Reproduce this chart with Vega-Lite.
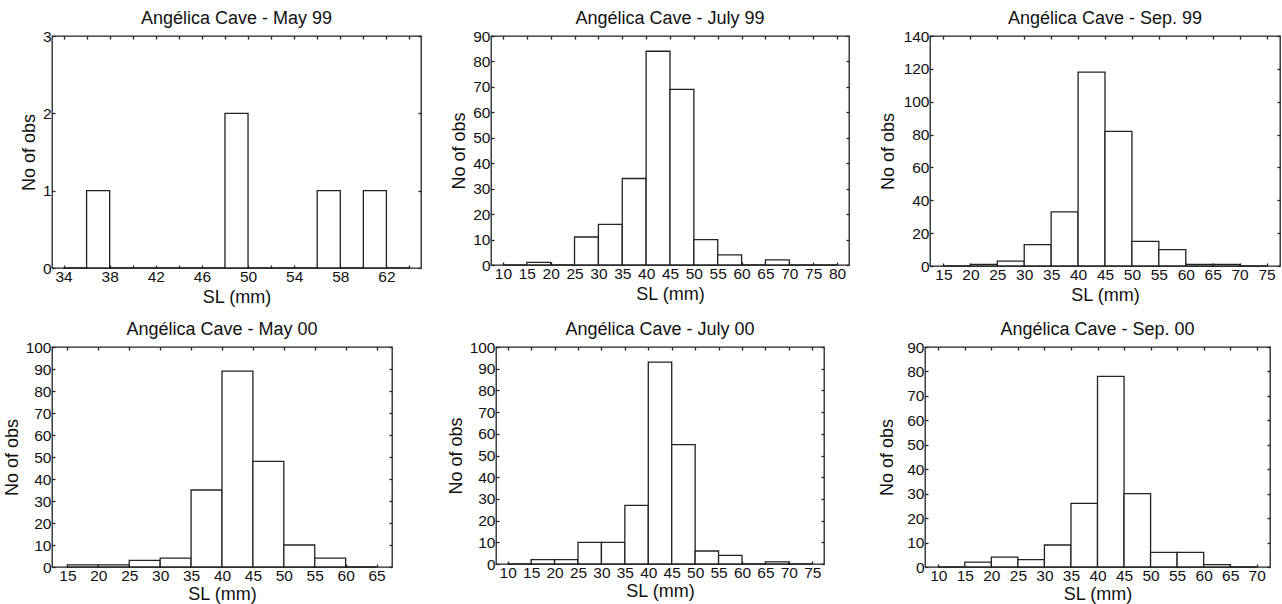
{
  "$schema": "https://vega.github.io/schema/vega-lite/v6.json",
  "background": "white",
  "padding": {"left": 2, "top": 9, "right": 0, "bottom": 0},
  "config": {
    "font": "Liberation Sans",
    "view": {"stroke": "#222", "strokeWidth": 1.3},
    "axis": {"domain": false, "grid": false, "tickColor": "#222", "tickSize": -3, "tickWidth": 1.3, "labelFontSize": 15.5, "labelColor": "#111", "titleFontSize": 18, "titleFontWeight": "normal", "titleColor": "#111", "labelPadding": 4},
    "title": {"fontSize": 18, "fontWeight": "normal", "color": "#111", "offset": 1}
  },
  "datasets": {
    "h": [
      {"panel": "May 99", "lo": 34, "hi": 36, "count": 0},
      {"panel": "May 99", "lo": 36, "hi": 38, "count": 1},
      {"panel": "May 99", "lo": 38, "hi": 40, "count": 0},
      {"panel": "May 99", "lo": 40, "hi": 42, "count": 0},
      {"panel": "May 99", "lo": 42, "hi": 44, "count": 0},
      {"panel": "May 99", "lo": 44, "hi": 46, "count": 0},
      {"panel": "May 99", "lo": 46, "hi": 48, "count": 0},
      {"panel": "May 99", "lo": 48, "hi": 50, "count": 2},
      {"panel": "May 99", "lo": 50, "hi": 52, "count": 0},
      {"panel": "May 99", "lo": 52, "hi": 54, "count": 0},
      {"panel": "May 99", "lo": 54, "hi": 56, "count": 0},
      {"panel": "May 99", "lo": 56, "hi": 58, "count": 1},
      {"panel": "May 99", "lo": 58, "hi": 60, "count": 0},
      {"panel": "May 99", "lo": 60, "hi": 62, "count": 1},
      {"panel": "May 99", "lo": 62, "hi": 64, "count": 0},
      {"panel": "July 99", "lo": 10, "hi": 15, "count": 0},
      {"panel": "July 99", "lo": 15, "hi": 20, "count": 1},
      {"panel": "July 99", "lo": 20, "hi": 25, "count": 0},
      {"panel": "July 99", "lo": 25, "hi": 30, "count": 11},
      {"panel": "July 99", "lo": 30, "hi": 35, "count": 16},
      {"panel": "July 99", "lo": 35, "hi": 40, "count": 34},
      {"panel": "July 99", "lo": 40, "hi": 45, "count": 84},
      {"panel": "July 99", "lo": 45, "hi": 50, "count": 69},
      {"panel": "July 99", "lo": 50, "hi": 55, "count": 10},
      {"panel": "July 99", "lo": 55, "hi": 60, "count": 4},
      {"panel": "July 99", "lo": 60, "hi": 65, "count": 0},
      {"panel": "July 99", "lo": 65, "hi": 70, "count": 2},
      {"panel": "July 99", "lo": 70, "hi": 75, "count": 0},
      {"panel": "July 99", "lo": 75, "hi": 80, "count": 0},
      {"panel": "Sep. 99", "lo": 15, "hi": 20, "count": 0},
      {"panel": "Sep. 99", "lo": 20, "hi": 25, "count": 1},
      {"panel": "Sep. 99", "lo": 25, "hi": 30, "count": 3},
      {"panel": "Sep. 99", "lo": 30, "hi": 35, "count": 13},
      {"panel": "Sep. 99", "lo": 35, "hi": 40, "count": 33},
      {"panel": "Sep. 99", "lo": 40, "hi": 45, "count": 118},
      {"panel": "Sep. 99", "lo": 45, "hi": 50, "count": 82},
      {"panel": "Sep. 99", "lo": 50, "hi": 55, "count": 15},
      {"panel": "Sep. 99", "lo": 55, "hi": 60, "count": 10},
      {"panel": "Sep. 99", "lo": 60, "hi": 65, "count": 1},
      {"panel": "Sep. 99", "lo": 65, "hi": 70, "count": 1},
      {"panel": "Sep. 99", "lo": 70, "hi": 75, "count": 0},
      {"panel": "May 00", "lo": 15, "hi": 20, "count": 1},
      {"panel": "May 00", "lo": 20, "hi": 25, "count": 1},
      {"panel": "May 00", "lo": 25, "hi": 30, "count": 3},
      {"panel": "May 00", "lo": 30, "hi": 35, "count": 4},
      {"panel": "May 00", "lo": 35, "hi": 40, "count": 35},
      {"panel": "May 00", "lo": 40, "hi": 45, "count": 89},
      {"panel": "May 00", "lo": 45, "hi": 50, "count": 48},
      {"panel": "May 00", "lo": 50, "hi": 55, "count": 10},
      {"panel": "May 00", "lo": 55, "hi": 60, "count": 4},
      {"panel": "May 00", "lo": 60, "hi": 65, "count": 0},
      {"panel": "July 00", "lo": 10, "hi": 15, "count": 0},
      {"panel": "July 00", "lo": 15, "hi": 20, "count": 2},
      {"panel": "July 00", "lo": 20, "hi": 25, "count": 2},
      {"panel": "July 00", "lo": 25, "hi": 30, "count": 10},
      {"panel": "July 00", "lo": 30, "hi": 35, "count": 10},
      {"panel": "July 00", "lo": 35, "hi": 40, "count": 27},
      {"panel": "July 00", "lo": 40, "hi": 45, "count": 93},
      {"panel": "July 00", "lo": 45, "hi": 50, "count": 55},
      {"panel": "July 00", "lo": 50, "hi": 55, "count": 6},
      {"panel": "July 00", "lo": 55, "hi": 60, "count": 4},
      {"panel": "July 00", "lo": 60, "hi": 65, "count": 0},
      {"panel": "July 00", "lo": 65, "hi": 70, "count": 1},
      {"panel": "July 00", "lo": 70, "hi": 75, "count": 0},
      {"panel": "Sep. 00", "lo": 10, "hi": 15, "count": 0},
      {"panel": "Sep. 00", "lo": 15, "hi": 20, "count": 2},
      {"panel": "Sep. 00", "lo": 20, "hi": 25, "count": 4},
      {"panel": "Sep. 00", "lo": 25, "hi": 30, "count": 3},
      {"panel": "Sep. 00", "lo": 30, "hi": 35, "count": 9},
      {"panel": "Sep. 00", "lo": 35, "hi": 40, "count": 26},
      {"panel": "Sep. 00", "lo": 40, "hi": 45, "count": 78},
      {"panel": "Sep. 00", "lo": 45, "hi": 50, "count": 30},
      {"panel": "Sep. 00", "lo": 50, "hi": 55, "count": 6},
      {"panel": "Sep. 00", "lo": 55, "hi": 60, "count": 6},
      {"panel": "Sep. 00", "lo": 60, "hi": 65, "count": 1},
      {"panel": "Sep. 00", "lo": 65, "hi": 70, "count": 0}
    ]
  },
  "data": {"name": "h"},
  "spacing": 12,
  "vconcat": [
    {
      "spacing": 27,
      "hconcat": [
        {
          "width": 369, "height": 232,
          "title": "Angélica Cave - May 99",
          "transform": [{"filter": "datum.panel == 'May 99'"}],
          "layer": [
            {"mark": {"type": "bar", "fill": "white", "stroke": "#222", "strokeWidth": 1.3},
             "encoding": {
               "x": {"field": "lo", "type": "quantitative", "scale": {"domain": [33, 65], "nice": false, "zero": false}, "axis": {"orient": "bottom", "title": "SL (mm)", "values": [34, 36, 38, 40, 42, 44, 46, 48, 50, 52, 54, 56, 58, 60, 62, 64], "labelExpr": "datum.value % 4 == 2 ? datum.label : ''"}},
               "x2": {"field": "hi"},
               "y": {"field": "count", "type": "quantitative", "scale": {"domain": [0, 3], "nice": false}, "axis": {"orient": "left", "title": "No of obs", "values": [0, 1, 2, 3]}},
               "y2": {"datum": 0}
             }},
            {"mark": {"type": "bar", "opacity": 0},
             "encoding": {
               "x": {"field": "lo", "type": "quantitative", "axis": {"orient": "top", "title": null, "labels": false, "values": [34, 36, 38, 40, 42, 44, 46, 48, 50, 52, 54, 56, 58, 60, 62, 64]}},
               "x2": {"field": "hi"},
               "y": {"field": "count", "type": "quantitative", "axis": {"orient": "right", "title": null, "labels": false, "values": [0, 1, 2, 3]}},
               "y2": {"datum": 0}
             }}
          ],
          "resolve": {"axis": {"x": "independent", "y": "independent"}}
        },
        {
          "width": 358, "height": 229,
          "title": "Angélica Cave - July 99",
          "transform": [{"filter": "datum.panel == 'July 99'"}],
          "layer": [
            {"mark": {"type": "bar", "fill": "white", "stroke": "#222", "strokeWidth": 1.3},
             "encoding": {
               "x": {"field": "lo", "type": "quantitative", "scale": {"domain": [7.5, 82.5], "nice": false, "zero": false}, "axis": {"orient": "bottom", "title": "SL (mm)", "values": [10, 15, 20, 25, 30, 35, 40, 45, 50, 55, 60, 65, 70, 75, 80]}},
               "x2": {"field": "hi"},
               "y": {"field": "count", "type": "quantitative", "scale": {"domain": [0, 90], "nice": false}, "axis": {"orient": "left", "title": "No of obs", "values": [0, 10, 20, 30, 40, 50, 60, 70, 80, 90]}},
               "y2": {"datum": 0}
             }},
            {"mark": {"type": "bar", "opacity": 0},
             "encoding": {
               "x": {"field": "lo", "type": "quantitative", "axis": {"orient": "top", "title": null, "labels": false, "values": [10, 15, 20, 25, 30, 35, 40, 45, 50, 55, 60, 65, 70, 75, 80]}},
               "x2": {"field": "hi"},
               "y": {"field": "count", "type": "quantitative", "axis": {"orient": "right", "title": null, "labels": false, "values": [0, 10, 20, 30, 40, 50, 60, 70, 80, 90]}},
               "y2": {"datum": 0}
             }}
          ],
          "resolve": {"axis": {"x": "independent", "y": "independent"}}
        },
        {
          "width": 350, "height": 230,
          "title": "Angélica Cave - Sep. 99",
          "transform": [{"filter": "datum.panel == 'Sep. 99'"}],
          "layer": [
            {"mark": {"type": "bar", "fill": "white", "stroke": "#222", "strokeWidth": 1.3},
             "encoding": {
               "x": {"field": "lo", "type": "quantitative", "scale": {"domain": [12.5, 77.5], "nice": false, "zero": false}, "axis": {"orient": "bottom", "title": "SL (mm)", "values": [15, 20, 25, 30, 35, 40, 45, 50, 55, 60, 65, 70, 75]}},
               "x2": {"field": "hi"},
               "y": {"field": "count", "type": "quantitative", "scale": {"domain": [0, 140], "nice": false}, "axis": {"orient": "left", "title": "No of obs", "titlePadding": 6, "values": [0, 20, 40, 60, 80, 100, 120, 140]}},
               "y2": {"datum": 0}
             }},
            {"mark": {"type": "bar", "opacity": 0},
             "encoding": {
               "x": {"field": "lo", "type": "quantitative", "axis": {"orient": "top", "title": null, "labels": false, "values": [15, 20, 25, 30, 35, 40, 45, 50, 55, 60, 65, 70, 75]}},
               "x2": {"field": "hi"},
               "y": {"field": "count", "type": "quantitative", "axis": {"orient": "right", "title": null, "labels": false, "values": [0, 20, 40, 60, 80, 100, 120, 140]}},
               "y2": {"datum": 0}
             }}
          ],
          "resolve": {"axis": {"x": "independent", "y": "independent"}}
        }
      ]
    },
    {
      "spacing": 52,
      "hconcat": [
        {
          "width": 340, "height": 220,
          "title": "Angélica Cave - May 00",
          "transform": [{"filter": "datum.panel == 'May 00'"}],
          "layer": [
            {"mark": {"type": "bar", "fill": "white", "stroke": "#222", "strokeWidth": 1.3},
             "encoding": {
               "x": {"field": "lo", "type": "quantitative", "scale": {"domain": [12.5, 67.5], "nice": false, "zero": false}, "axis": {"orient": "bottom", "title": "SL (mm)", "titlePadding": 2, "values": [15, 20, 25, 30, 35, 40, 45, 50, 55, 60, 65]}},
               "x2": {"field": "hi"},
               "y": {"field": "count", "type": "quantitative", "scale": {"domain": [0, 100], "nice": false}, "axis": {"orient": "left", "title": "No of obs", "values": [0, 10, 20, 30, 40, 50, 60, 70, 80, 90, 100]}},
               "y2": {"datum": 0}
             }},
            {"mark": {"type": "bar", "opacity": 0},
             "encoding": {
               "x": {"field": "lo", "type": "quantitative", "axis": {"orient": "top", "title": null, "labels": false, "values": [15, 20, 25, 30, 35, 40, 45, 50, 55, 60, 65]}},
               "x2": {"field": "hi"},
               "y": {"field": "count", "type": "quantitative", "axis": {"orient": "right", "title": null, "labels": false, "values": [0, 10, 20, 30, 40, 50, 60, 70, 80, 90, 100]}},
               "y2": {"datum": 0}
             }}
          ],
          "resolve": {"axis": {"x": "independent", "y": "independent"}}
        },
        {
          "width": 328, "height": 217,
          "title": "Angélica Cave - July 00",
          "transform": [{"filter": "datum.panel == 'July 00'"}],
          "layer": [
            {"mark": {"type": "bar", "fill": "white", "stroke": "#222", "strokeWidth": 1.3},
             "encoding": {
               "x": {"field": "lo", "type": "quantitative", "scale": {"domain": [7.5, 77.5], "nice": false, "zero": false}, "axis": {"orient": "bottom", "title": "SL (mm)", "titlePadding": 2, "values": [10, 15, 20, 25, 30, 35, 40, 45, 50, 55, 60, 65, 70, 75]}},
               "x2": {"field": "hi"},
               "y": {"field": "count", "type": "quantitative", "scale": {"domain": [0, 100], "nice": false}, "axis": {"orient": "left", "title": "No of obs", "values": [0, 10, 20, 30, 40, 50, 60, 70, 80, 90, 100]}},
               "y2": {"datum": 0}
             }},
            {"mark": {"type": "bar", "opacity": 0},
             "encoding": {
               "x": {"field": "lo", "type": "quantitative", "axis": {"orient": "top", "title": null, "labels": false, "values": [10, 15, 20, 25, 30, 35, 40, 45, 50, 55, 60, 65, 70, 75]}},
               "x2": {"field": "hi"},
               "y": {"field": "count", "type": "quantitative", "axis": {"orient": "right", "title": null, "labels": false, "values": [0, 10, 20, 30, 40, 50, 60, 70, 80, 90, 100]}},
               "y2": {"datum": 0}
             }}
          ],
          "resolve": {"axis": {"x": "independent", "y": "independent"}}
        },
        {
          "width": 345, "height": 220,
          "title": "Angélica Cave - Sep. 00",
          "transform": [{"filter": "datum.panel == 'Sep. 00'"}],
          "layer": [
            {"mark": {"type": "bar", "fill": "white", "stroke": "#222", "strokeWidth": 1.3},
             "encoding": {
               "x": {"field": "lo", "type": "quantitative", "scale": {"domain": [7.5, 72.5], "nice": false, "zero": false}, "axis": {"orient": "bottom", "title": "SL (mm)", "titlePadding": 2, "values": [10, 15, 20, 25, 30, 35, 40, 45, 50, 55, 60, 65, 70]}},
               "x2": {"field": "hi"},
               "y": {"field": "count", "type": "quantitative", "scale": {"domain": [0, 90], "nice": false}, "axis": {"orient": "left", "title": "No of obs", "titlePadding": 10, "values": [0, 10, 20, 30, 40, 50, 60, 70, 80, 90]}},
               "y2": {"datum": 0}
             }},
            {"mark": {"type": "bar", "opacity": 0},
             "encoding": {
               "x": {"field": "lo", "type": "quantitative", "axis": {"orient": "top", "title": null, "labels": false, "values": [10, 15, 20, 25, 30, 35, 40, 45, 50, 55, 60, 65, 70]}},
               "x2": {"field": "hi"},
               "y": {"field": "count", "type": "quantitative", "axis": {"orient": "right", "title": null, "labels": false, "values": [0, 10, 20, 30, 40, 50, 60, 70, 80, 90]}},
               "y2": {"datum": 0}
             }}
          ],
          "resolve": {"axis": {"x": "independent", "y": "independent"}}
        }
      ]
    }
  ]
}
